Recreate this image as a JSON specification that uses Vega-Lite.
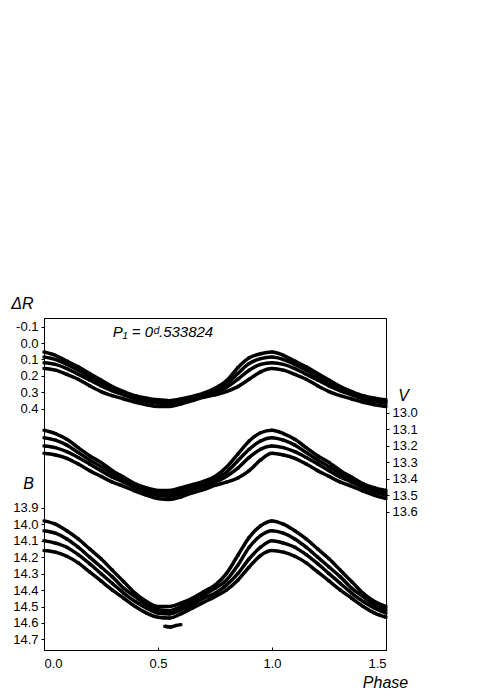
{
"$schema":"https://vega.github.io/schema/vega-lite/v6.json",
"width":342,"height":332,
"autosize":"none",
"padding":{"left":44,"top":318,"right":105,"bottom":43},
"background":"white",
"config":{
 "view":{"stroke":"black","strokeWidth":1},
 "font":"Liberation Sans",
 "axis":{"grid":false,"labelFont":"Liberation Sans","labelFontSize":13,"labelColor":"black","domainColor":"black","tickColor":"black","tickSize":3,"labelPadding":3,"titleFont":"Liberation Sans","titleFontSize":16,"titleFontWeight":"normal","titleFontStyle":"italic","titleColor":"black","titleAngle":0,"titleAlign":"center","titleBaseline":"middle"}
},
"datasets":{
"R":[
{"n":"a","p":0,"m":0.055},{"n":"a","p":0.05,"m":0.075},{"n":"a","p":0.1,"m":0.11},{"n":"a","p":0.15,"m":0.145},{"n":"a","p":0.2,"m":0.185},{"n":"a","p":0.25,"m":0.225},{"n":"a","p":0.3,"m":0.265},{"n":"a","p":0.35,"m":0.295},{"n":"a","p":0.4,"m":0.32},{"n":"a","p":0.45,"m":0.335},{"n":"a","p":0.5,"m":0.345},{"n":"a","p":0.55,"m":0.35},{"n":"a","p":0.6,"m":0.34},{"n":"a","p":0.65,"m":0.325},{"n":"a","p":0.7,"m":0.305},{"n":"a","p":0.75,"m":0.275},{"n":"a","p":0.8,"m":0.23},{"n":"a","p":0.85,"m":0.15},{"n":"a","p":0.9,"m":0.09},{"n":"a","p":0.95,"m":0.065},{"n":"a","p":1,"m":0.055},{"n":"a","p":1.05,"m":0.075},{"n":"a","p":1.1,"m":0.11},{"n":"a","p":1.15,"m":0.145},{"n":"a","p":1.2,"m":0.185},{"n":"a","p":1.25,"m":0.225},{"n":"a","p":1.3,"m":0.265},{"n":"a","p":1.35,"m":0.295},{"n":"a","p":1.4,"m":0.32},{"n":"a","p":1.45,"m":0.335},{"n":"a","p":1.5,"m":0.345},
{"n":"b","p":0,"m":0.085},{"n":"b","p":0.05,"m":0.1},{"n":"b","p":0.1,"m":0.13},{"n":"b","p":0.15,"m":0.165},{"n":"b","p":0.2,"m":0.205},{"n":"b","p":0.25,"m":0.24},{"n":"b","p":0.3,"m":0.275},{"n":"b","p":0.35,"m":0.3},{"n":"b","p":0.4,"m":0.325},{"n":"b","p":0.45,"m":0.345},{"n":"b","p":0.5,"m":0.355},{"n":"b","p":0.55,"m":0.36},{"n":"b","p":0.6,"m":0.35},{"n":"b","p":0.65,"m":0.335},{"n":"b","p":0.7,"m":0.315},{"n":"b","p":0.75,"m":0.29},{"n":"b","p":0.8,"m":0.25},{"n":"b","p":0.85,"m":0.185},{"n":"b","p":0.9,"m":0.125},{"n":"b","p":0.95,"m":0.095},{"n":"b","p":1,"m":0.085},{"n":"b","p":1.05,"m":0.1},{"n":"b","p":1.1,"m":0.13},{"n":"b","p":1.15,"m":0.165},{"n":"b","p":1.2,"m":0.205},{"n":"b","p":1.25,"m":0.24},{"n":"b","p":1.3,"m":0.275},{"n":"b","p":1.35,"m":0.3},{"n":"b","p":1.4,"m":0.325},{"n":"b","p":1.45,"m":0.345},{"n":"b","p":1.5,"m":0.355},
{"n":"c","p":0,"m":0.12},{"n":"c","p":0.05,"m":0.13},{"n":"c","p":0.1,"m":0.155},{"n":"c","p":0.15,"m":0.19},{"n":"c","p":0.2,"m":0.225},{"n":"c","p":0.25,"m":0.26},{"n":"c","p":0.3,"m":0.29},{"n":"c","p":0.35,"m":0.315},{"n":"c","p":0.4,"m":0.34},{"n":"c","p":0.45,"m":0.355},{"n":"c","p":0.5,"m":0.365},{"n":"c","p":0.55,"m":0.37},{"n":"c","p":0.6,"m":0.355},{"n":"c","p":0.65,"m":0.34},{"n":"c","p":0.7,"m":0.32},{"n":"c","p":0.75,"m":0.3},{"n":"c","p":0.8,"m":0.27},{"n":"c","p":0.85,"m":0.22},{"n":"c","p":0.9,"m":0.165},{"n":"c","p":0.95,"m":0.13},{"n":"c","p":1,"m":0.12},{"n":"c","p":1.05,"m":0.13},{"n":"c","p":1.1,"m":0.155},{"n":"c","p":1.15,"m":0.19},{"n":"c","p":1.2,"m":0.225},{"n":"c","p":1.25,"m":0.26},{"n":"c","p":1.3,"m":0.29},{"n":"c","p":1.35,"m":0.315},{"n":"c","p":1.4,"m":0.34},{"n":"c","p":1.45,"m":0.355},{"n":"c","p":1.5,"m":0.365},
{"n":"d","p":0,"m":0.155},{"n":"d","p":0.05,"m":0.165},{"n":"d","p":0.1,"m":0.19},{"n":"d","p":0.15,"m":0.22},{"n":"d","p":0.2,"m":0.26},{"n":"d","p":0.25,"m":0.295},{"n":"d","p":0.3,"m":0.32},{"n":"d","p":0.35,"m":0.34},{"n":"d","p":0.4,"m":0.36},{"n":"d","p":0.45,"m":0.375},{"n":"d","p":0.5,"m":0.385},{"n":"d","p":0.55,"m":0.385},{"n":"d","p":0.6,"m":0.37},{"n":"d","p":0.65,"m":0.35},{"n":"d","p":0.7,"m":0.33},{"n":"d","p":0.75,"m":0.315},{"n":"d","p":0.8,"m":0.295},{"n":"d","p":0.85,"m":0.265},{"n":"d","p":0.9,"m":0.22},{"n":"d","p":0.95,"m":0.175},{"n":"d","p":1,"m":0.155},{"n":"d","p":1.05,"m":0.165},{"n":"d","p":1.1,"m":0.19},{"n":"d","p":1.15,"m":0.22},{"n":"d","p":1.2,"m":0.26},{"n":"d","p":1.25,"m":0.295},{"n":"d","p":1.3,"m":0.32},{"n":"d","p":1.35,"m":0.34},{"n":"d","p":1.4,"m":0.36},{"n":"d","p":1.45,"m":0.375},{"n":"d","p":1.5,"m":0.385}
],
"V":[
{"n":"a","p":0,"m":13.105},{"n":"a","p":0.05,"m":13.125},{"n":"a","p":0.1,"m":13.16},{"n":"a","p":0.15,"m":13.21},{"n":"a","p":0.2,"m":13.26},{"n":"a","p":0.25,"m":13.3},{"n":"a","p":0.3,"m":13.35},{"n":"a","p":0.35,"m":13.39},{"n":"a","p":0.4,"m":13.43},{"n":"a","p":0.45,"m":13.455},{"n":"a","p":0.5,"m":13.47},{"n":"a","p":0.55,"m":13.47},{"n":"a","p":0.6,"m":13.455},{"n":"a","p":0.65,"m":13.435},{"n":"a","p":0.7,"m":13.415},{"n":"a","p":0.75,"m":13.385},{"n":"a","p":0.8,"m":13.33},{"n":"a","p":0.85,"m":13.25},{"n":"a","p":0.9,"m":13.17},{"n":"a","p":0.95,"m":13.12},{"n":"a","p":1,"m":13.105},{"n":"a","p":1.05,"m":13.125},{"n":"a","p":1.1,"m":13.16},{"n":"a","p":1.15,"m":13.21},{"n":"a","p":1.2,"m":13.26},{"n":"a","p":1.25,"m":13.3},{"n":"a","p":1.3,"m":13.35},{"n":"a","p":1.35,"m":13.39},{"n":"a","p":1.4,"m":13.43},{"n":"a","p":1.45,"m":13.455},{"n":"a","p":1.5,"m":13.47},
{"n":"b","p":0,"m":13.15},{"n":"b","p":0.05,"m":13.165},{"n":"b","p":0.1,"m":13.195},{"n":"b","p":0.15,"m":13.24},{"n":"b","p":0.2,"m":13.285},{"n":"b","p":0.25,"m":13.325},{"n":"b","p":0.3,"m":13.37},{"n":"b","p":0.35,"m":13.405},{"n":"b","p":0.4,"m":13.44},{"n":"b","p":0.45,"m":13.465},{"n":"b","p":0.5,"m":13.485},{"n":"b","p":0.55,"m":13.49},{"n":"b","p":0.6,"m":13.47},{"n":"b","p":0.65,"m":13.45},{"n":"b","p":0.7,"m":13.43},{"n":"b","p":0.75,"m":13.4},{"n":"b","p":0.8,"m":13.36},{"n":"b","p":0.85,"m":13.29},{"n":"b","p":0.9,"m":13.22},{"n":"b","p":0.95,"m":13.17},{"n":"b","p":1,"m":13.15},{"n":"b","p":1.05,"m":13.165},{"n":"b","p":1.1,"m":13.195},{"n":"b","p":1.15,"m":13.24},{"n":"b","p":1.2,"m":13.285},{"n":"b","p":1.25,"m":13.325},{"n":"b","p":1.3,"m":13.37},{"n":"b","p":1.35,"m":13.405},{"n":"b","p":1.4,"m":13.44},{"n":"b","p":1.45,"m":13.465},{"n":"b","p":1.5,"m":13.485},
{"n":"c","p":0,"m":13.2},{"n":"c","p":0.05,"m":13.21},{"n":"c","p":0.1,"m":13.235},{"n":"c","p":0.15,"m":13.27},{"n":"c","p":0.2,"m":13.31},{"n":"c","p":0.25,"m":13.35},{"n":"c","p":0.3,"m":13.39},{"n":"c","p":0.35,"m":13.42},{"n":"c","p":0.4,"m":13.455},{"n":"c","p":0.45,"m":13.48},{"n":"c","p":0.5,"m":13.5},{"n":"c","p":0.55,"m":13.505},{"n":"c","p":0.6,"m":13.49},{"n":"c","p":0.65,"m":13.465},{"n":"c","p":0.7,"m":13.445},{"n":"c","p":0.75,"m":13.42},{"n":"c","p":0.8,"m":13.385},{"n":"c","p":0.85,"m":13.335},{"n":"c","p":0.9,"m":13.27},{"n":"c","p":0.95,"m":13.22},{"n":"c","p":1,"m":13.2},{"n":"c","p":1.05,"m":13.21},{"n":"c","p":1.1,"m":13.235},{"n":"c","p":1.15,"m":13.27},{"n":"c","p":1.2,"m":13.31},{"n":"c","p":1.25,"m":13.35},{"n":"c","p":1.3,"m":13.39},{"n":"c","p":1.35,"m":13.42},{"n":"c","p":1.4,"m":13.455},{"n":"c","p":1.45,"m":13.48},{"n":"c","p":1.5,"m":13.5},
{"n":"d","p":0,"m":13.245},{"n":"d","p":0.05,"m":13.255},{"n":"d","p":0.1,"m":13.275},{"n":"d","p":0.15,"m":13.31},{"n":"d","p":0.2,"m":13.35},{"n":"d","p":0.25,"m":13.385},{"n":"d","p":0.3,"m":13.42},{"n":"d","p":0.35,"m":13.445},{"n":"d","p":0.4,"m":13.475},{"n":"d","p":0.45,"m":13.5},{"n":"d","p":0.5,"m":13.52},{"n":"d","p":0.55,"m":13.525},{"n":"d","p":0.6,"m":13.51},{"n":"d","p":0.65,"m":13.485},{"n":"d","p":0.7,"m":13.465},{"n":"d","p":0.75,"m":13.44},{"n":"d","p":0.8,"m":13.42},{"n":"d","p":0.85,"m":13.395},{"n":"d","p":0.9,"m":13.35},{"n":"d","p":0.95,"m":13.285},{"n":"d","p":1,"m":13.245},{"n":"d","p":1.05,"m":13.255},{"n":"d","p":1.1,"m":13.275},{"n":"d","p":1.15,"m":13.31},{"n":"d","p":1.2,"m":13.35},{"n":"d","p":1.25,"m":13.385},{"n":"d","p":1.3,"m":13.42},{"n":"d","p":1.35,"m":13.445},{"n":"d","p":1.4,"m":13.475},{"n":"d","p":1.45,"m":13.5},{"n":"d","p":1.5,"m":13.52}
],
"B":[
{"n":"a","p":0,"m":13.98},{"n":"a","p":0.05,"m":14.0},{"n":"a","p":0.1,"m":14.04},{"n":"a","p":0.15,"m":14.09},{"n":"a","p":0.2,"m":14.15},{"n":"a","p":0.25,"m":14.21},{"n":"a","p":0.3,"m":14.28},{"n":"a","p":0.35,"m":14.35},{"n":"a","p":0.4,"m":14.42},{"n":"a","p":0.45,"m":14.47},{"n":"a","p":0.5,"m":14.5},{"n":"a","p":0.55,"m":14.5},{"n":"a","p":0.6,"m":14.48},{"n":"a","p":0.65,"m":14.45},{"n":"a","p":0.7,"m":14.41},{"n":"a","p":0.75,"m":14.37},{"n":"a","p":0.8,"m":14.3},{"n":"a","p":0.85,"m":14.19},{"n":"a","p":0.9,"m":14.08},{"n":"a","p":0.95,"m":14.01},{"n":"a","p":1,"m":13.98},{"n":"a","p":1.05,"m":14.0},{"n":"a","p":1.1,"m":14.04},{"n":"a","p":1.15,"m":14.09},{"n":"a","p":1.2,"m":14.15},{"n":"a","p":1.25,"m":14.21},{"n":"a","p":1.3,"m":14.28},{"n":"a","p":1.35,"m":14.35},{"n":"a","p":1.4,"m":14.42},{"n":"a","p":1.45,"m":14.47},{"n":"a","p":1.5,"m":14.5},
{"n":"b","p":0,"m":14.04},{"n":"b","p":0.05,"m":14.055},{"n":"b","p":0.1,"m":14.09},{"n":"b","p":0.15,"m":14.14},{"n":"b","p":0.2,"m":14.2},{"n":"b","p":0.25,"m":14.26},{"n":"b","p":0.3,"m":14.32},{"n":"b","p":0.35,"m":14.39},{"n":"b","p":0.4,"m":14.44},{"n":"b","p":0.45,"m":14.49},{"n":"b","p":0.5,"m":14.52},{"n":"b","p":0.55,"m":14.525},{"n":"b","p":0.6,"m":14.5},{"n":"b","p":0.65,"m":14.47},{"n":"b","p":0.7,"m":14.43},{"n":"b","p":0.75,"m":14.39},{"n":"b","p":0.8,"m":14.34},{"n":"b","p":0.85,"m":14.25},{"n":"b","p":0.9,"m":14.14},{"n":"b","p":0.95,"m":14.07},{"n":"b","p":1,"m":14.04},{"n":"b","p":1.05,"m":14.055},{"n":"b","p":1.1,"m":14.09},{"n":"b","p":1.15,"m":14.14},{"n":"b","p":1.2,"m":14.2},{"n":"b","p":1.25,"m":14.26},{"n":"b","p":1.3,"m":14.32},{"n":"b","p":1.35,"m":14.39},{"n":"b","p":1.4,"m":14.44},{"n":"b","p":1.45,"m":14.49},{"n":"b","p":1.5,"m":14.52},
{"n":"c","p":0,"m":14.1},{"n":"c","p":0.05,"m":14.115},{"n":"c","p":0.1,"m":14.14},{"n":"c","p":0.15,"m":14.185},{"n":"c","p":0.2,"m":14.24},{"n":"c","p":0.25,"m":14.3},{"n":"c","p":0.3,"m":14.36},{"n":"c","p":0.35,"m":14.42},{"n":"c","p":0.4,"m":14.47},{"n":"c","p":0.45,"m":14.51},{"n":"c","p":0.5,"m":14.54},{"n":"c","p":0.55,"m":14.545},{"n":"c","p":0.6,"m":14.52},{"n":"c","p":0.65,"m":14.49},{"n":"c","p":0.7,"m":14.45},{"n":"c","p":0.75,"m":14.42},{"n":"c","p":0.8,"m":14.37},{"n":"c","p":0.85,"m":14.3},{"n":"c","p":0.9,"m":14.21},{"n":"c","p":0.95,"m":14.14},{"n":"c","p":1,"m":14.1},{"n":"c","p":1.05,"m":14.115},{"n":"c","p":1.1,"m":14.14},{"n":"c","p":1.15,"m":14.185},{"n":"c","p":1.2,"m":14.24},{"n":"c","p":1.25,"m":14.3},{"n":"c","p":1.3,"m":14.36},{"n":"c","p":1.35,"m":14.42},{"n":"c","p":1.4,"m":14.47},{"n":"c","p":1.45,"m":14.51},{"n":"c","p":1.5,"m":14.54},
{"n":"d","p":0,"m":14.16},{"n":"d","p":0.05,"m":14.17},{"n":"d","p":0.1,"m":14.195},{"n":"d","p":0.15,"m":14.235},{"n":"d","p":0.2,"m":14.29},{"n":"d","p":0.25,"m":14.345},{"n":"d","p":0.3,"m":14.4},{"n":"d","p":0.35,"m":14.45},{"n":"d","p":0.4,"m":14.5},{"n":"d","p":0.45,"m":14.54},{"n":"d","p":0.5,"m":14.565},{"n":"d","p":0.55,"m":14.57},{"n":"d","p":0.6,"m":14.545},{"n":"d","p":0.65,"m":14.51},{"n":"d","p":0.7,"m":14.475},{"n":"d","p":0.75,"m":14.44},{"n":"d","p":0.8,"m":14.4},{"n":"d","p":0.85,"m":14.34},{"n":"d","p":0.9,"m":14.26},{"n":"d","p":0.95,"m":14.19},{"n":"d","p":1,"m":14.16},{"n":"d","p":1.05,"m":14.17},{"n":"d","p":1.1,"m":14.195},{"n":"d","p":1.15,"m":14.235},{"n":"d","p":1.2,"m":14.29},{"n":"d","p":1.25,"m":14.345},{"n":"d","p":1.3,"m":14.4},{"n":"d","p":1.35,"m":14.45},{"n":"d","p":1.4,"m":14.5},{"n":"d","p":1.45,"m":14.54},{"n":"d","p":1.5,"m":14.565},
{"n":"e","p":0.53,"m":14.62},{"n":"e","p":0.555,"m":14.625},{"n":"e","p":0.58,"m":14.615},{"n":"e","p":0.6,"m":14.61}
],
"label":[{"t":"P₁ = 0ᵈ.533824","p":0.522,"m":-0.067}]
},
"layer":[
 {
  "data":{"name":"R"},
  "mark":{"type":"line","color":"black","strokeWidth":3.5,"interpolate":"monotone"},
  "encoding":{
   "x":{"field":"p","type":"quantitative","scale":{"domain":[0,1.5],"nice":false,"zero":false},
        "axis":{"values":[0,0.5,1,1.5],"format":".1f","title":"Phase","titleX":341,"titleY":32,"tickSize":-3,"labelPadding":10}},
   "y":{"field":"m","type":"quantitative","scale":{"domain":[-0.1518,1.864],"reverse":true,"nice":false,"zero":false},
        "axis":{"orient":"left","values":[-0.1,0,0.1,0.2,0.3,0.4],"labelExpr":"replace(format(datum.value,'.1f'),'\u2212','-')","title":"ΔR","titleX":-22,"titleY":-15}},
   "detail":{"field":"n"}
  }
 },
 {
  "data":{"name":"R"},
  "mark":{"type":"square","color":"black","size":9,"opacity":1},
  "encoding":{
   "x":{"field":"p","type":"quantitative","scale":{"domain":[0,1.5],"nice":false,"zero":false},
        "axis":{"values":[0,0.5,1,1.5],"format":".1f","title":"Phase","titleX":341,"titleY":32,"tickSize":-3,"labelPadding":10}},
   "y":{"field":"m","type":"quantitative","scale":{"domain":[-0.1518,1.864],"reverse":true,"nice":false,"zero":false},"axis":null}
  }
 },
 {
  "data":{"name":"V"},
  "mark":{"type":"line","color":"black","strokeWidth":3.5,"interpolate":"monotone"},
  "encoding":{
   "x":{"field":"p","type":"quantitative","scale":{"domain":[0,1.5],"nice":false,"zero":false},
        "axis":{"values":[0,0.5,1,1.5],"format":".1f","title":"Phase","titleX":341,"titleY":32,"tickSize":-3,"labelPadding":10}},
   "y":{"field":"m","type":"quantitative","scale":{"domain":[12.4232,14.4392],"reverse":true,"nice":false,"zero":false},
        "axis":{"orient":"right","values":[13.0,13.1,13.2,13.3,13.4,13.5,13.6],"format":".1f","title":"V","titleX":17,"titleY":77}},
   "detail":{"field":"n"}
  }
 },
 {
  "data":{"name":"V"},
  "mark":{"type":"square","color":"black","size":9,"opacity":1},
  "encoding":{
   "x":{"field":"p","type":"quantitative","scale":{"domain":[0,1.5],"nice":false,"zero":false},
        "axis":{"values":[0,0.5,1,1.5],"format":".1f","title":"Phase","titleX":341,"titleY":32,"tickSize":-3,"labelPadding":10}},
   "y":{"field":"m","type":"quantitative","scale":{"domain":[12.4232,14.4392],"reverse":true,"nice":false,"zero":false},"axis":null}
  }
 },
 {
  "data":{"name":"B"},
  "mark":{"type":"line","color":"black","strokeWidth":3.5,"interpolate":"monotone"},
  "encoding":{
   "x":{"field":"p","type":"quantitative","scale":{"domain":[0,1.5],"nice":false,"zero":false},
        "axis":{"values":[0,0.5,1,1.5],"format":".1f","title":"Phase","titleX":341,"titleY":32,"tickSize":-3,"labelPadding":10}},
   "y":{"field":"m","type":"quantitative","scale":{"domain":[12.7482,14.764],"reverse":true,"nice":false,"zero":false},
        "axis":{"orient":"left","values":[13.9,14.0,14.1,14.2,14.3,14.4,14.5,14.6,14.7],"format":".1f","title":"B","titleX":-16,"titleY":165}},
   "detail":{"field":"n"}
  }
 },
 {
  "data":{"name":"B"},
  "mark":{"type":"square","color":"black","size":9,"opacity":1},
  "encoding":{
   "x":{"field":"p","type":"quantitative","scale":{"domain":[0,1.5],"nice":false,"zero":false},
        "axis":{"values":[0,0.5,1,1.5],"format":".1f","title":"Phase","titleX":341,"titleY":32,"tickSize":-3,"labelPadding":10}},
   "y":{"field":"m","type":"quantitative","scale":{"domain":[12.7482,14.764],"reverse":true,"nice":false,"zero":false},"axis":null}
  }
 },
 {
  "data":{"name":"label"},
  "mark":{"type":"text","fontStyle":"italic","fontSize":15,"font":"Liberation Sans","color":"black","align":"center","baseline":"middle"},
  "encoding":{
   "x":{"field":"p","type":"quantitative","scale":{"domain":[0,1.5],"nice":false,"zero":false},
        "axis":{"values":[0,0.5,1,1.5],"format":".1f","title":"Phase","titleX":341,"titleY":32,"tickSize":-3,"labelPadding":10}},
   "y":{"field":"m","type":"quantitative","scale":{"domain":[-0.1518,1.864],"reverse":true,"nice":false,"zero":false},"axis":null},
   "text":{"field":"t"}
  }
 }
],
"resolve":{"scale":{"y":"independent"},"axis":{"y":"independent"}}
}
